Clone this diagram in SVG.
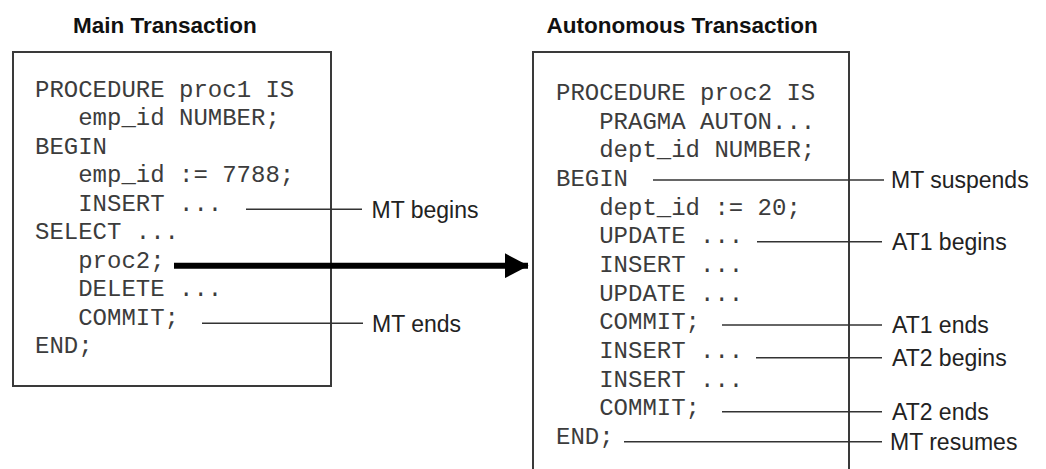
<svg xmlns="http://www.w3.org/2000/svg" width="1046" height="469" viewBox="0 0 1046 469">
<style>
.box{fill:#fff;stroke:#3a3a3a;stroke-width:2}
.code{font-family:"Liberation Mono","Courier New",monospace;font-size:24px;fill:#3c3c3c}
.title{font-family:"Liberation Sans",Arial,sans-serif;font-size:22.5px;font-weight:bold;fill:#111}
.lbl{font-family:"Liberation Sans",Arial,sans-serif;font-size:23px;fill:#222}
.ln{stroke:#333;stroke-width:1.4;fill:none}
</style>
<defs>
<marker id="ah" markerWidth="4" markerHeight="4.2" refX="3.9" refY="2.1" orient="auto" markerUnits="strokeWidth">
<path d="M0,0 L4,2.1 L0,4.2 Z" fill="#000"/>
</marker>
</defs>
<g id="main-transaction">
<text class="title" x="73" y="33">Main Transaction</text>
<rect class="box" x="13" y="52" width="318" height="334"/>
<g class="code">
<text x="35" y="96.5">PROCEDURE proc1 IS</text>
<text x="78.2" y="125">emp_id NUMBER;</text>
<text x="35" y="153.5">BEGIN</text>
<text x="78.2" y="182">emp_id := 7788;</text>
<text x="78.2" y="210.5">INSERT ...</text>
<text x="35" y="239">SELECT ...</text>
<text x="78.2" y="267.5">proc2;</text>
<text x="78.2" y="296">DELETE ...</text>
<text x="78.2" y="324.5">COMMIT;</text>
<text x="35" y="353">END;</text>
</g>
</g>
<g id="autonomous-transaction">
<text class="title" x="546.5" y="33">Autonomous Transaction</text>
<rect class="box" x="533" y="52" width="316" height="430"/>
<g class="code">
<text x="556" y="100">PROCEDURE proc2 IS</text>
<text x="599.2" y="128.7">PRAGMA AUTON...</text>
<text x="599.2" y="157.3">dept_id NUMBER;</text>
<text x="556" y="186">BEGIN</text>
<text x="599.2" y="214.7">dept_id := 20;</text>
<text x="599.2" y="243.3">UPDATE ...</text>
<text x="599.2" y="272">INSERT ...</text>
<text x="599.2" y="300.7">UPDATE ...</text>
<text x="599.2" y="329.3">COMMIT;</text>
<text x="599.2" y="358">INSERT ...</text>
<text x="599.2" y="386.7">INSERT ...</text>
<text x="599.2" y="415.3">COMMIT;</text>
<text x="556" y="444">END;</text>
</g>
</g>
<g id="labels">
<text class="lbl" x="371.5" y="217.5">MT begins</text>
<text class="lbl" x="372" y="331.5">MT ends</text>
<text class="lbl" x="891" y="188">MT suspends</text>
<text class="lbl" x="892" y="250">AT1 begins</text>
<text class="lbl" x="892" y="333">AT1 ends</text>
<text class="lbl" x="892" y="366">AT2 begins</text>
<text class="lbl" x="892" y="420">AT2 ends</text>
<text class="lbl" x="890" y="450">MT resumes</text>
</g>
<g id="connectors">
<line class="ln" x1="246" y1="209.3" x2="362" y2="209.3"/>
<line class="ln" x1="202" y1="323.3" x2="363" y2="323.3"/>
<line class="ln" x1="653" y1="180" x2="884" y2="180"/>
<line class="ln" x1="757" y1="241.7" x2="882" y2="241.7"/>
<line class="ln" x1="722" y1="325" x2="882" y2="325"/>
<line class="ln" x1="756" y1="357.7" x2="882" y2="357.7"/>
<line class="ln" x1="722" y1="411.7" x2="882" y2="411.7"/>
<line class="ln" x1="624" y1="441.7" x2="882" y2="441.7"/>
<line x1="174" y1="265.7" x2="528" y2="265.7" stroke="#000" stroke-width="6" marker-end="url(#ah)"/>
</g>
</svg>
